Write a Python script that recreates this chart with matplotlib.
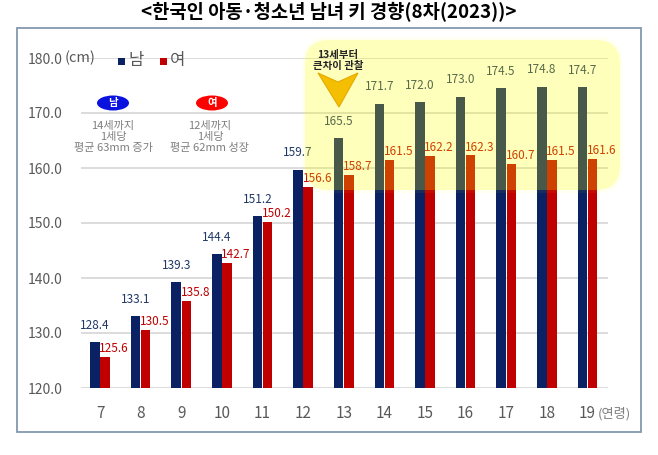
import matplotlib
matplotlib.use("Agg")
import matplotlib.pyplot as plt
import numpy as np
from matplotlib.patches import FancyBboxPatch, Ellipse, Polygon, Rectangle
from matplotlib.transforms import Affine2D

plt.rcParams['font.family'] = ['Noto Sans CJK KR', 'DejaVu Sans']

# ---- data ----
ages = ['7', '8', '9', '10', '11', '12', '13', '14', '15', '16', '17', '18', '19']
male = [128.4, 133.1, 139.3, 144.4, 151.2, 159.7, 165.5, 171.7, 172.0, 173.0, 174.5, 174.8, 174.7]
female = [125.6, 130.5, 135.8, 142.7, 150.2, 156.6, 158.7, 161.5, 162.2, 162.3, 160.7, 161.5, 161.6]
yticks = [120, 130, 140, 150, 160, 170, 180]
title = '<한국인 아동·청소년 남녀 키 경향(8차(2023))>'

W, H = 658, 455
NAVY = '#0a2163'
RED = '#c00000'
GRAY = '#595959'

fig = plt.figure(figsize=(W / 100, H / 100), dpi=100)
fig.patch.set_facecolor('white')
pix = Affine2D().scale(1, -1).translate(0, H)


def fx(x):
    return x / W


def fy(y):
    return 1 - y / H


ax = fig.add_axes([fx(81), fy(388), (608 - 81) / W, (388 - 58) / H])
x = np.arange(len(ages))
bw = 0.235
ax.bar(x - 0.125, male, width=bw, color=NAVY, zorder=2)
ax.bar(x + 0.125, female, width=bw, color=RED, zorder=2)
ax.set_ylim(120, 180)
ax.set_xlim(-0.468, 12.505)
ax.set_yticks(yticks)
ax.set_yticklabels([f'{v:.1f}' for v in yticks])
ax.set_xticks(x)
ax.set_xticklabels(ages)
ax.tick_params(axis='y', length=0, pad=13, labelsize=10, labelcolor=GRAY)
ax.tick_params(axis='x', length=0, pad=12, labelsize=11, labelcolor=GRAY)
for s in ax.spines.values():
    s.set_visible(False)
ax.grid(axis='y', color='#d9d9d9', lw=1.3, zorder=0)
ax.set_axisbelow(True)
ax.patch.set_alpha(0)

for i in range(len(ages)):
    ax.annotate(f'{male[i]:.1f}', (x[i] - 0.125, male[i]), xytext=(0, 12),
                textcoords='offset points', ha='center', va='center',
                fontsize=8.5, color='#1f3864', clip_on=False)
    ax.annotate(f'{female[i]:.1f}', (x[i] + 0.125, female[i]), xytext=(6.5, 6),
                textcoords='offset points', ha='center', va='center',
                fontsize=8.5, color=RED, clip_on=False)

# frame
fig.add_artist(Rectangle((17, 28), 624, 404, transform=pix, fill=False,
                         edgecolor='#8497b0', lw=1.3, zorder=0.5))

# highlight
fig.add_artist(FancyBboxPatch((305, 40), 315, 150, transform=pix,
                              boxstyle='round,pad=0,rounding_size=24',
                              facecolor='#ffff00', edgecolor='none', alpha=0.22, zorder=3))
fig.add_artist(FancyBboxPatch((302, 37), 321, 156, transform=pix,
                              boxstyle='round,pad=0,rounding_size=26',
                              facecolor='#ffff00', edgecolor='none', alpha=0.05, zorder=3))

# arrow
fig.add_artist(Polygon([(318, 73), (338, 82), (358, 73), (339, 107)], closed=True,
                       transform=pix, facecolor='#f3bf00', edgecolor='#e6a800', lw=0.8, zorder=4))
fig.text(fx(338), fy(55), '13세부터', ha='center', va='center', fontsize=7.5,
         fontweight='bold', color='#262626', zorder=5)
fig.text(fx(338), fy(66), '큰차이 관찰', ha='center', va='center', fontsize=7.5,
         fontweight='bold', color='#262626', zorder=5)

# title
fig.text(0.5, fy(12), title, ha='center', va='center', fontsize=13.5,
         fontweight='bold', color='black')

# unit & legend
fig.text(fx(65), fy(58), '(cm)', ha='left', va='center', fontsize=10.5, color=GRAY)
fig.add_artist(Rectangle((118, 58), 7, 7, transform=pix, facecolor=NAVY, edgecolor='none'))
fig.text(fx(128), fy(61), '남', ha='left', va='center', fontsize=12, color=GRAY)
fig.add_artist(Rectangle((160, 58), 7, 7, transform=pix, facecolor=RED, edgecolor='none'))
fig.text(fx(170), fy(61), '여', ha='left', va='center', fontsize=12, color=GRAY)

# side notes
fig.add_artist(Ellipse((113, 103), 32, 15, transform=pix, facecolor='#0a12e0', edgecolor='none'))
fig.text(fx(113), fy(103), '남', ha='center', va='center', fontsize=7.5, fontweight='bold', color='white')
fig.add_artist(Ellipse((212, 103), 32, 15, transform=pix, facecolor='#ff0000', edgecolor='none'))
fig.text(fx(212), fy(103), '여', ha='center', va='center', fontsize=7.5, fontweight='bold', color='white')
fig.text(fx(113), fy(137), '14세까지\n1세당\n평균 63mm 증가', ha='center', va='center',
         fontsize=8, color='#7f7f7f', linespacing=1.1)
fig.text(fx(210), fy(137), '12세까지\n1세당\n평균 62mm 성장', ha='center', va='center',
         fontsize=8, color='#7f7f7f', linespacing=1.1)

# x unit
fig.text(fx(598), fy(414), '(연령)', ha='left', va='center', fontsize=9.5, color='#7f7f7f')

fig.savefig('out.png', dpi=100)
